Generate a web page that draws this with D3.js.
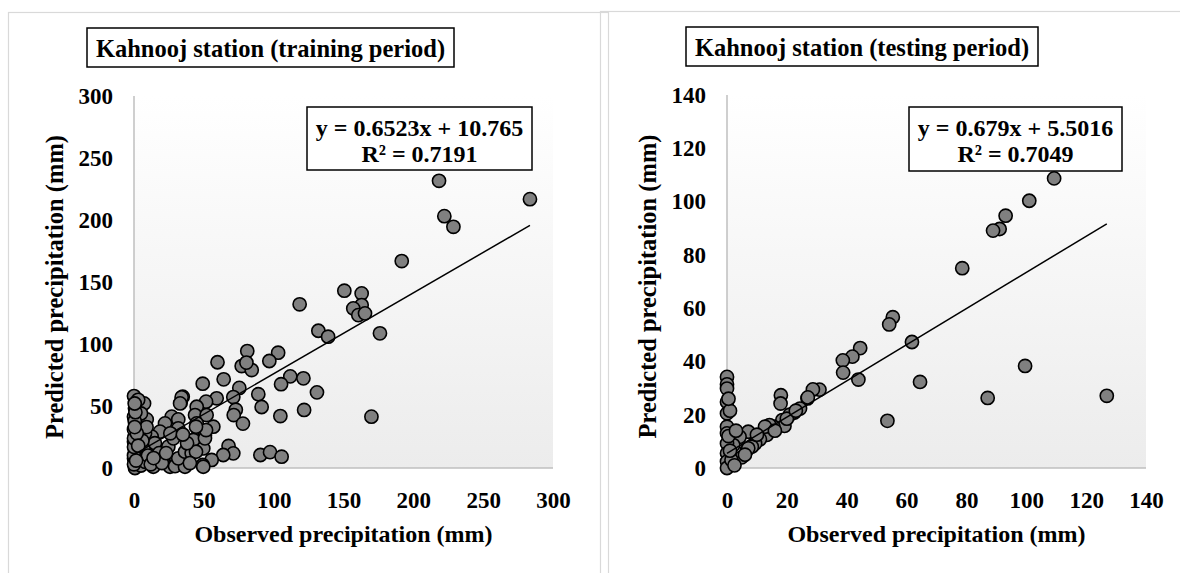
<!DOCTYPE html>
<html><head><meta charset="utf-8">
<script src="https://cdn.jsdelivr.net/npm/d3@7"></script>
<style>
html,body{margin:0;padding:0;background:#fff;}
</style></head>
<body>
<svg id="chart" width="1180" height="573"></svg>
<script>
// ---------- DATA ----------
const trainObs = [218.4,283.5,222.2,228.7,191.7,150.6,163,163,157,160.6,165.4,176.1,118.6,132,139,170,131,
  81.1,103.2,96.9,59.8,77.1,84.3,80.5,111.9,121.3,105.3,64.2,49.2,75.4,89,71.1,59.2,34.9,33.4,51.6,91.4,72.9,71.4,104.8,121.8,78,67.7,71.1,63.9,55.6,49.2,90.5,97.4,105.7,
  0,7.2,0.7,0,3.1,9.1,0.7,0,0.7,4.3,0,0.7,13.8,25.8,29.4,36.5,49.6,34.1,33,27,31.7,22.2,18.6,12.7,10.3,16.3,24.6,28.2,31.7,21,31.7,36.5,4.3,7.9,
  44.9,43.7,52,44.9,46,56.8,50.8,42.5,49.6,41.3,44.4,50.8,51.6,44.4,
  1.5,2,1,2.5,5,8,10,12,15,18,20,6,3,1,5,9,14,26,23,38,40,35,
  0,0,0,0,0,0.5,1,0.5,2,3,1.5,0.5];
const trainPred = [231.6,216.8,203.1,194.5,166.9,143,140.8,131.4,128.7,123.3,124.7,108.6,132,110.7,105.9,41.4,61,
  94.3,93,86.3,85.3,82.2,79,85,73.9,72.3,67.6,71.5,68,64.6,59.5,57.2,56.2,57.5,52.7,53.5,49.2,47,42.7,41.9,46.8,35.8,17.8,11.8,10.5,6.5,2.4,10.5,12.8,9.1,
  58,52.1,48.1,41.4,34.7,39.2,26.6,21.2,13.1,14.5,7.8,0,1,1,1.5,1,1,57,52.1,41.4,39.2,36,29.3,25.3,18.5,15.8,17.2,23.9,32,7.8,7.8,13.1,7.8,28,
  49.4,42.7,42.7,36,30.6,33.3,26.6,22.6,15.8,11.8,13.1,23.9,30.6,33.3,
  45,30,18,4,2,5,10,3,20,12,4,22,55,37,44,33,8,28,12,20,4,27,
  3,10,17,24,31,38,45,52,28,18,6,33];

const testObs = [109.3,101,93.1,91.1,88.9,78.6,61.8,55.4,54.2,44.5,41.9,38.7,38.8,43.9,64.5,99.6,87.1,126.9,53.6,
  30.9,28.7,26.9,24.4,22.5,18,17.9,18.5,19.2,15.5,14.2,13.3,12.7,11,9.4,8.3,7.1,6.6,4.2,4.9,2.1,7.1,
  0,0,0,0,0,0,0,0,0,0,0,1,0.5,1.5,1,2.5,0.5,21,20,16,10,6,3,23,27];
const testPred = [108.7,100.3,94.7,89.7,89.1,75,47.3,56.6,53.9,45,41.8,40.4,35.8,33.2,32.3,38.3,26.3,27.1,17.7,
  29.4,29.5,26.1,22.3,20.8,27.3,24.2,18,15.8,15.5,16.1,12.4,15.5,10.8,9.2,8,13.6,6.7,11.7,4,8.6,7.4,
  34.2,31.4,29.8,24.8,20.5,15.5,13,9.2,5.5,2.4,0,21.5,12,3,6.5,1,26,20,18.5,14,12.5,5,14,21.5,26.5];

const trainTicks = [0,50,100,150,200,250,300];
const testTicks = [0,20,40,60,80,100,120,140];
const titles = ["Kahnooj station (training period)","Kahnooj station (testing period)"];
const trainFit = {slope:0.6523, intercept:10.765, eq:"y = 0.6523x + 10.765", r2:"R² = 0.7191"};
const testFit = {slope:0.679, intercept:5.5016, eq:"y = 0.679x + 5.5016", r2:"R² = 0.7049"};
const xTitle = "Observed precipitation (mm)";
const yTitle = "Predicted precipitation (mm)";

// ---------- DRAW ----------
const FONT = '"Liberation Serif", Tinos, "Times New Roman", "Nimbus Roman", "DejaVu Serif", serif';
const svg = d3.select("#chart");
const defs = svg.append("defs");
const grad = defs.append("linearGradient").attr("id","bg").attr("x1",0).attr("y1",0).attr("x2",0).attr("y2",1);
grad.append("stop").attr("offset","0%").attr("stop-color","#ffffff");
grad.append("stop").attr("offset","100%").attr("stop-color","#ececec");

function txt(sel){ return sel.attr("font-family",FONT).attr("font-weight","bold").attr("fill","#000"); }

function panel(cfg){
  const g = svg.append("g");
  g.append("rect").attr("x",cfg.fx).attr("y",cfg.fy).attr("width",600).attr("height",700)
    .attr("fill","none").attr("stroke","#d9d9d9").attr("stroke-width",1.2);
  const x = d3.scaleLinear().domain([0,cfg.max]).range([cfg.x0,cfg.x1]);
  const y = d3.scaleLinear().domain([0,cfg.max]).range([cfg.y1,cfg.y0]);
  g.append("rect").attr("x",cfg.x0).attr("y",cfg.y0).attr("width",cfg.x1-cfg.x0).attr("height",cfg.y1-cfg.y0)
    .attr("fill","url(#bg)");
  const xa = g.append("g").attr("transform",`translate(0,${cfg.y1})`)
    .call(d3.axisBottom(x).tickValues(cfg.ticks).tickSize(0).tickPadding(23.5));
  xa.attr("font-family",null).attr("font-size",null);
  xa.select(".domain").attr("stroke","#bfbfbf").attr("stroke-width",1.5).attr("d",`M${cfg.x0},0H${cfg.x1}`);
  txt(xa.selectAll("text")).attr("font-size",23);
  const ya = g.append("g").attr("transform",`translate(${cfg.x0},0)`)
    .call(d3.axisLeft(y).tickValues(cfg.ticks).tickSize(0).tickPadding(21));
  ya.attr("font-family",null).attr("font-size",null);
  ya.select(".domain").attr("stroke","#bfbfbf").attr("stroke-width",1.5).attr("d",`M0,${cfg.y0}V${cfg.y1}`);
  txt(ya.selectAll("text")).attr("font-size",23);
  const pts = cfg.obs.map((v,i)=>[v,cfg.pred[i]]);
  g.append("g").selectAll("circle").data(pts).join("circle")
    .attr("cx",d=>x(d[0])).attr("cy",d=>y(d[1])).attr("r",6.6)
    .attr("fill","#808080").attr("stroke","#000").attr("stroke-width",1.6);
  const xmin = d3.min(cfg.obs), xmax = d3.max(cfg.obs);
  g.append("line").attr("x1",x(xmin)).attr("y1",y(cfg.fit.slope*xmin+cfg.fit.intercept))
    .attr("x2",x(xmax)).attr("y2",y(cfg.fit.slope*xmax+cfg.fit.intercept))
    .attr("stroke","#000").attr("stroke-width",1.5);
  g.append("rect").attr("x",cfg.eq[0]).attr("y",cfg.eq[1]).attr("width",cfg.eq[2]).attr("height",cfg.eq[3])
    .attr("fill","#fff").attr("stroke","#000").attr("stroke-width",1.5);
  const ecx = cfg.eq[0]+cfg.eq[2]/2;
  txt(g.append("text")).attr("x",ecx).attr("y",cfg.eq[1]+29).attr("text-anchor","middle").attr("font-size",24).text(cfg.fit.eq);
  txt(g.append("text")).attr("x",ecx).attr("y",cfg.eq[1]+55).attr("text-anchor","middle").attr("font-size",24).text(cfg.fit.r2);
  g.append("rect").attr("x",cfg.tb[0]).attr("y",cfg.tb[1]).attr("width",cfg.tb[2]).attr("height",cfg.tb[3])
    .attr("fill","#fff").attr("stroke","#000").attr("stroke-width",1.5);
  txt(g.append("text")).attr("x",cfg.tb[0]+cfg.tb[2]/2).attr("y",cfg.tb[1]+28.5).attr("text-anchor","middle")
    .attr("font-size",24.5).text(cfg.title);
  txt(g.append("text")).attr("x",(cfg.x0+cfg.x1)/2).attr("y",cfg.y1+74)
    .attr("text-anchor","middle").attr("font-size",24).text(xTitle);
  txt(g.append("text")).attr("transform",`translate(${cfg.x0-71},${(cfg.y0+cfg.y1)/2+5}) rotate(-90)`)
    .attr("text-anchor","middle").attr("font-size",24.5).text(yTitle);
}

panel({fx:8.5,fy:12.5,x0:134,x1:553,y0:96,y1:468,max:300,ticks:trainTicks,obs:trainObs,pred:trainPred,
  fit:trainFit,eq:[307,107,225,63],tb:[87,28,367,39],title:titles[0]});
panel({fx:600.5,fy:11.5,x0:727,x1:1146,y0:95,y1:468,max:140,ticks:testTicks,obs:testObs,pred:testPred,
  fit:testFit,eq:[909,107,213,64],tb:[686,27,352,39],title:titles[1]});
</script>
</body></html>
